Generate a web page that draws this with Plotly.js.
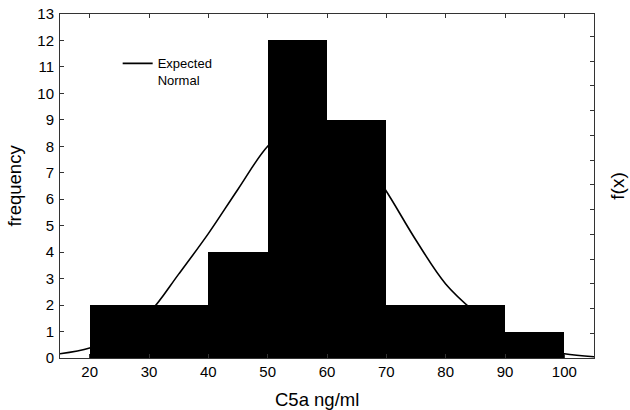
<!DOCTYPE html>
<html>
<head>
<meta charset="utf-8">
<script src="https://cdn.plot.ly/plotly-3.0.1.min.js"></script>
<style>html,body{margin:0;padding:0;background:#fff;}#chart{width:630px;height:410px;}</style>
</head>
<body>
<div id="chart"></div>
<script>
// Histogram bins (C5a ng/ml)
const binCenters = [30, 45, 55, 65, 80, 95];
const binWidths  = [20, 10, 10, 10, 20, 10];
const frequency  = [2, 4, 12, 9, 2, 1];

// Expected normal curve
const curveX = [15, 20, 25, 30, 35, 40, 45, 50, 55, 57.5, 60, 65, 70, 75, 80, 85, 90, 95, 100, 105];
const curveY = [0.16, 0.38, 0.85, 1.7, 3.17, 4.7, 6.38, 8.0, 8.95, 9.08, 8.92, 7.95, 6.3, 4.45, 2.8, 1.72, 0.85, 0.38, 0.16, 0.05];

const xTicks = [20, 30, 40, 50, 60, 70, 80, 90, 100];

const FONT = 'Liberation Sans, Arial, sans-serif';

const traces = [
  {
    type: 'scatter', mode: 'lines', x: curveX, y: curveY,
    line: {color: '#000', width: 1.6, shape: 'spline', smoothing: 1},
    name: 'Expected<br>Normal', showlegend: true, hoverinfo: 'skip'
  },
  {
    type: 'bar', x: binCenters, y: frequency, width: binWidths,
    marker: {color: '#000', line: {width: 0}},
    showlegend: false, hoverinfo: 'skip'
  },
  {
    type: 'scatter', x: [15], y: [0], yaxis: 'y2', mode: 'markers',
    marker: {opacity: 0}, showlegend: false, hoverinfo: 'skip'
  }
];

const layout = {
  width: 630, height: 410,
  margin: {l: 60, r: 36, t: 14, b: 52},
  paper_bgcolor: '#fff', plot_bgcolor: '#fff',
  font: {family: FONT, color: '#000', size: 15},
  showlegend: true,
  legend: {
    x: 0.108, y: 0.9, xanchor: 'left', yanchor: 'top',
    bgcolor: 'rgba(0,0,0,0)', font: {size: 13, family: FONT}, valign: 'top'
  },
  bargap: 0,
  xaxis: {
    range: [15, 105], tickvals: xTicks, ticktext: xTicks.map(String),
    ticks: 'inside', ticklen: 4, tickcolor: '#333',
    showline: true, linecolor: '#333', linewidth: 1, mirror: 'ticks',
    showgrid: false, zeroline: false,
    tickfont: {size: 15}
  },
  yaxis: {
    range: [0, 13], dtick: 1,
    ticks: 'inside', ticklen: 4, tickcolor: '#333',
    showline: true, linecolor: '#333', linewidth: 1, mirror: true,
    showgrid: false, zeroline: false,
    tickfont: {size: 15}, ticklabelstandoff: 2,
    title: {text: 'frequency', font: {size: 18.5}, standoff: 10}
  },
  yaxis2: {
    overlaying: 'y', side: 'right',
    range: [0, 13.9], dtick: 1,
    ticks: 'inside', ticklen: 4, tickcolor: '#333',
    showticklabels: false, showgrid: false, zeroline: false,
    showline: true, linecolor: '#333',
    title: {text: 'f(x)', font: {size: 19}, standoff: 16}
  },
  annotations: [{
    text: 'C5a ng/ml', xref: 'paper', yref: 'paper',
    x: 0.481, y: -0.12, xanchor: 'center', yanchor: 'middle',
    showarrow: false, font: {size: 18.5, family: FONT}, borderpad: 0
  }]
};

Plotly.newPlot('chart', traces, layout, {staticPlot: true, displayModeBar: false});
</script>
</body>
</html>
